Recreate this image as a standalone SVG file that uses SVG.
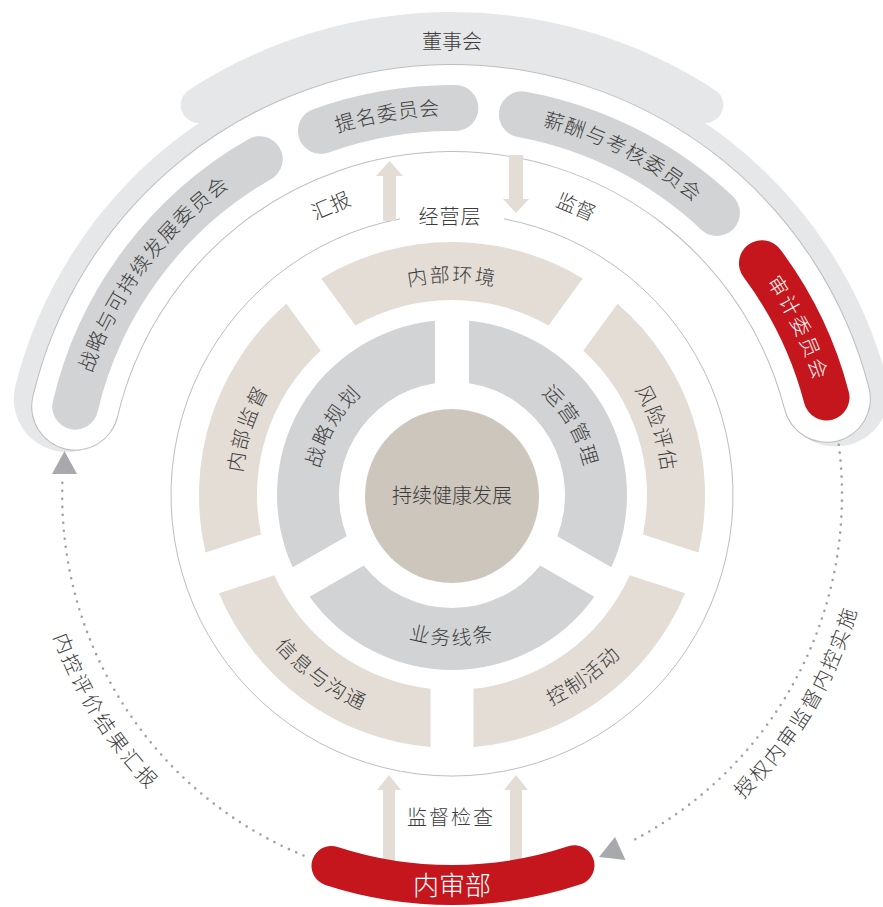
<svg xmlns="http://www.w3.org/2000/svg" width="883" height="907" viewBox="0 0 883 907">
<defs>
<style>
text{font-family:"Noto Sans CJK SC","Noto Sans",sans-serif;fill:#3c3c3c;font-size:20px;font-weight:300}
.w{fill:#fff}
.stk{fill:none;stroke-linecap:round}
.pill{fill:none;stroke:#d1d3d4;stroke-width:46;stroke-linecap:round}
.beige{fill:#e3ddd6}
.gray{fill:#d1d3d5}
.arr{fill:#e3ddd6}
.dot{fill:none;stroke:#9fa1a4;stroke-width:2.6;stroke-linecap:round;stroke-dasharray:0 8}
.head{fill:#a7a9ac}
</style>
<path id="p-zl" d="M75.70 442.11 A380 380 0 0 1 291.40 150.60"/>
<path id="p-tm" d="M262 165.91 A380 380 0 0 1 522.55 121.61"/>
<path id="p-xc" d="M418.88 116.45 A380 380 0 0 1 776.35 297.02"/>
<path id="p-sj" d="M669.96 183.72 A380 380 0 0 1 831.25 518.86"/>
<path id="p-nbhj" d="M315.09 331.83 A213 213 0 0 1 588.91 331.83"/>
<path id="p-fxpg" d="M563.81 316.06 A211 211 0 0 1 647.63 574.04"/>
<path id="p-nbjd" d="M256.37 574.04 A211 211 0 0 1 340.19 316.06"/>
<path id="p-kzhd" d="M435.75 727.43 A233 233 0 0 0 678.08 551.37"/>
<path id="p-xxgt" d="M225.92 551.37 A233 233 0 0 0 468.25 727.43"/>
<path id="p-zlgh" d="M319.05 518.44 A135 135 0 0 1 405.83 368.14"/>
<path id="p-yygl" d="M498.17 368.14 A135 135 0 0 1 584.95 518.44"/>
<path id="p-ywxt" d="M355.58 609.91 A150 150 0 0 0 548.42 609.91"/>
<path id="p-nk" d="M35.43 568.45 A423 423 0 0 0 203.37 837.22"/>
<path id="p-sq" d="M693.48 839.86 A421 421 0 0 0 869.86 546.31"/>
</defs>

<g id="board">
<path class="stk" d="M66.79 398.96 A397 397 0 0 1 835.83 393.59" stroke="#e6e7e8" stroke-width="106"/>
<path class="stk" d="M198.74 105.02 A465 465 0 0 1 705.26 105.02" stroke="#e6e7e8" stroke-width="36"/>
<text x="452" y="49" text-anchor="middle">董事会</text>
</g>

<g id="committee-band">
<path class="stk" d="M75.22 406.63 A387 387 0 0 1 826.84 398.76" stroke="#bcbec0" stroke-width="88"/>
<path class="stk" d="M75.22 406.63 A387 387 0 0 1 826.84 398.76" stroke="#ffffff" stroke-width="86"/>
</g>

<g id="c-strategy">
<path class="pill" d="M75.22 406.63 A387 387 0 0 1 259.67 159.17"/>
<text letter-spacing="1.5"><textPath href="#p-zl" startOffset="50%" text-anchor="middle">战略与可持续发展委员会</textPath></text>
</g>
<g id="c-nomination">
<path class="pill" d="M320.91 130.88 A387 387 0 0 1 455.38 108.02"/>
<text letter-spacing="1"><textPath href="#p-tm" startOffset="50%" text-anchor="middle">提名委员会</textPath></text>
</g>
<g id="c-remuneration">
<path class="pill" d="M521.86 114.36 A387 387 0 0 1 716.92 212.89"/>
<text letter-spacing="1.5"><textPath href="#p-xc" startOffset="50%" text-anchor="middle">薪酬与考核委员会</textPath></text>
</g>
<g id="c-audit">
<path class="pill" style="stroke:#c4161c" d="M761.96 263.28 A387 387 0 0 1 826.50 397.45"/>
<text class="w" letter-spacing="2.5"><textPath href="#p-sj" startOffset="50%" text-anchor="middle">审计委员会</textPath></text>
</g>

<g id="management">
<path d="M400 218.89 A281 281 0 1 0 504 218.89" fill="none" stroke="#bdbdbd" stroke-width="1"/>
<text x="450" y="224" text-anchor="middle" letter-spacing="1">经营层</text>
</g>

<g id="seg-internal-env">
<path class="beige" d="M582.78 278.42 A253 253 0 0 0 321.22 278.42 L355.47 325.56 A195 195 0 0 1 548.53 325.56 Z"/>
<text letter-spacing="2"><textPath href="#p-nbhj" startOffset="50%" text-anchor="middle">内部环境</textPath></text>
</g>
<g id="seg-risk">
<path class="beige" d="M698.39 552.45 A253 253 0 0 0 617.57 303.70 L583.31 350.84 A195 195 0 0 1 642.97 534.44 Z"/>
<text letter-spacing="2"><textPath href="#p-fxpg" startOffset="50%" text-anchor="middle">风险评估</textPath></text>
</g>
<g id="seg-control">
<path class="beige" d="M473.50 747.08 A253 253 0 0 0 685.10 593.35 L629.69 575.34 A195 195 0 0 1 473.50 688.81 Z"/>
<text letter-spacing="2"><textPath href="#p-kzhd" startOffset="50%" text-anchor="middle">控制活动</textPath></text>
</g>
<g id="seg-info">
<path class="beige" d="M218.90 593.35 A253 253 0 0 0 430.50 747.08 L430.50 688.81 A195 195 0 0 1 274.31 575.34 Z"/>
<text letter-spacing="2"><textPath href="#p-xxgt" startOffset="50%" text-anchor="middle">信息与沟通</textPath></text>
</g>
<g id="seg-supervision">
<path class="beige" d="M286.43 303.70 A253 253 0 0 0 205.61 552.45 L261.03 534.44 A195 195 0 0 1 320.69 350.84 Z"/>
<text letter-spacing="2"><textPath href="#p-nbjd" startOffset="50%" text-anchor="middle">内部监督</textPath></text>
</g>

<g id="seg-strategy">
<path class="gray" d="M435.0 320.83 A175 175 0 0 0 292.66 567.37 L346.75 536.13 A113 113 0 0 1 435.0 383.29 Z"/>
<text letter-spacing="2"><textPath href="#p-zlgh" startOffset="50%" text-anchor="middle">战略规划</textPath></text>
</g>
<g id="seg-business">
<path class="gray" d="M309.66 596.80 A175 175 0 0 0 594.34 596.80 L540.25 565.58 A113 113 0 0 1 363.75 565.58 Z"/>
<text letter-spacing="2"><textPath href="#p-ywxt" startOffset="50%" text-anchor="middle">业务线条</textPath></text>
</g>
<g id="seg-operation">
<path class="gray" d="M611.34 567.37 A175 175 0 0 0 469.0 320.83 L469.0 383.29 A113 113 0 0 1 557.25 536.13 Z"/>
<text letter-spacing="2"><textPath href="#p-yygl" startOffset="50%" text-anchor="middle">运营管理</textPath></text>
</g>

<g id="center">
<circle cx="452" cy="496" r="87" fill="#cdc6bc"/>
<text x="452" y="503" text-anchor="middle">持续健康发展</text>
</g>

<g id="connectors">
<polygon class="arr" points="383,221 383,176 376,176 389.5,161 403,176 396,176 396,221"/>
<polygon class="arr" points="509,155 523,155 523,199 529,199 516,213 503,199 509,199"/>
<polygon class="arr" points="383,866 383,790 377,790 389,775 401,790 395,790 395,866"/>
<polygon class="arr" points="510,866 510,790 504,790 516,775 528,790 522,790 522,866"/>
<path class="dot" d="M303.5 855.5 A390 390 0 0 1 62.61 477.23"/>
<polygon class="head" points="64.5,451 52,474 77,474"/>
<path class="dot" d="M838.75 444.77 A390 390 0 0 1 632.08 840.93"/>
<polygon class="head" points="615,837 625.5,860 599,857"/>
<text x="331" y="213" text-anchor="middle" transform="rotate(-23 331 206)">汇报</text>
<text x="576" y="214" text-anchor="middle" transform="rotate(23 576 207)">监督</text>
<text x="451" y="825" text-anchor="middle" letter-spacing="2">监督检查</text>
<text letter-spacing="3"><textPath href="#p-nk" startOffset="50%" text-anchor="middle">内控评价结果汇报</textPath></text>
<text letter-spacing="2.5"><textPath href="#p-sq" startOffset="50%" text-anchor="middle">授权内审监督内控实施</textPath></text>
</g>

<g id="internal-audit">
<path class="stk" d="M331.48 865.91 A390 390 0 0 0 574.46 865.28" stroke="#c4161c" stroke-width="40"/>
<text class="w" x="452" y="895" text-anchor="middle" style="font-size:26px">内审部</text>
</g>
</svg>
